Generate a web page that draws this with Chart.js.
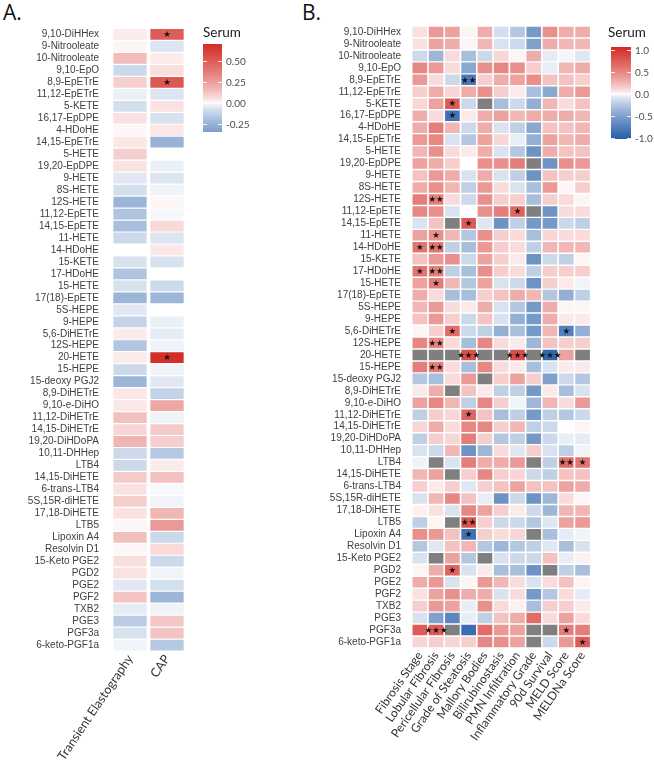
<!DOCTYPE html>
<html><head><meta charset="utf-8">
<script src="https://cdn.jsdelivr.net/npm/chart.js@4/dist/chart.umd.min.js"></script>
<style>
html,body{margin:0;padding:0;background:#fff;}
body{width:654px;height:760px;position:relative;overflow:hidden;}
#wa{position:absolute;left:0;top:0;width:300px;height:760px;}
#wb{position:absolute;left:300px;top:0;width:354px;height:760px;}
.panel{position:absolute;font-family:"Open Sans";font-size:21px;line-height:21px;color:#111;}
</style></head>
<body>
<div class="panel" style="left:3px;top:2px">A.</div>
<div class="panel" style="left:302px;top:2px">B.</div>
<div id="wa"><canvas id="ca"></canvas></div>
<div id="wb"><canvas id="cb"></canvas></div>
<script>
// ---------------- DATA ----------------
const metabolites = ["9,10-DiHHex","9-Nitrooleate","10-Nitrooleate","9,10-EpO","8,9-EpETrE","11,12-EpETrE","5-KETE","16,17-EpDPE","4-HDoHE","14,15-EpETrE","5-HETE","19,20-EpDPE","9-HETE","8S-HETE","12S-HETE","11,12-EpETE","14,15-EpETE","11-HETE","14-HDoHE","15-KETE","17-HDoHE","15-HETE","17(18)-EpETE","5S-HEPE","9-HEPE","5,6-DiHETrE","12S-HEPE","20-HETE","15-HEPE","15-deoxy PGJ2","8,9-DiHETrE","9,10-e-DiHO","11,12-DiHETrE","14,15-DiHETrE","19,20-DiHDoPA","10,11-DHHep","LTB4","14,15-DiHETE","6-trans-LTB4","5S,15R-diHETE","17,18-DiHETE","LTB5","Lipoxin A4","Resolvin D1","15-Keto PGE2","PGD2","PGE2","PGF2","TXB2","PGE3","PGF3a","6-keto-PGF1a"];

// Panel A
const colsA = ["Transient Elastography","CAP"];
const transientElastography = [0.03,0.01,0.15,-0.1,0.1,-0.03,-0.08,0.05,0.01,0.04,0.1,0.05,-0.05,-0.08,-0.24,-0.18,-0.2,-0.1,0.0,-0.07,-0.18,-0.07,-0.24,-0.05,-0.12,0.03,-0.17,0.03,-0.1,-0.24,0.04,0.04,0.14,0.08,0.18,-0.1,-0.1,0.11,0.05,0.1,0.05,0.01,0.14,0.01,0.06,0.05,-0.05,0.13,-0.04,-0.15,-0.07,-0.02];
const cap = [0.5,-0.06,0.03,0.06,0.52,-0.06,0.05,-0.07,0.04,-0.25,0.0,-0.03,-0.06,-0.02,0.01,-0.01,0.07,-0.06,0.04,-0.07,0.0,-0.1,-0.24,0.0,-0.03,-0.04,-0.02,0.7,-0.02,-0.05,-0.12,0.22,-0.02,0.11,0.1,-0.16,0.03,0.14,-0.01,-0.02,0.17,0.27,-0.1,0.07,-0.1,-0.02,-0.08,-0.24,-0.02,0.12,0.13,-0.16];
const starsA = [["9,10-DiHHex","CAP","*"],["8,9-EpETrE","CAP","*"],["20-HETE","CAP","*"]];
const legendTicksA = [0.5,0.25,0,-0.25];
const legendLabelsA = ["0.50","0.25","0.00","-0.25"];
const legendRangeA = [-0.35,0.71];

// Panel B
const colsB = ["Fibrosis Stage","Lobular Fibrosis","Pericellular Fibrosis","Grade of Steatosis","Mallory Bodies","Bilirubinostasis","PMN Infiltration","Inflammatory Grade","90d Survival","MELD Score","MELDNa Score"];
const fibrosisStage = [0.08,0.08,-0.15,0.5,0.4,0.15,0.12,0.3,0.3,0.4, 0.25,0.35,0.2,0.3,0.55,0.5,-0.1,0.35,0.6,0.2, 0.6,0.35,0.3,0.25,0.2,0.02,0.5,null,0.55,-0.25, 0.05,0.35,-0.2,0.12,-0.2,-0.1,-0.03,0.25,0.15,-0.1, 0.03,-0.2,0.45,-0.25,-0.1,0.02,0.3,0.08,0.15,-0.1, 0.75,0.12];
const lobularFibrosis = [0.4,0.35,-0.35,0.4,0.1,0.3,0.35,0.1,0.55,0.5, 0.45,0.3,0.4,0.45,0.55,0.45,0.2,0.45,0.6,0.4, 0.55,0.55,0.1,0.4,0.4,0.15,0.5,null,0.55,-0.3, 0.3,0.5,0.15,0.3,0.15,-0.15,null,0.35,0.05,0.25, 0.08,0.02,0.4,-0.08,null,0.3,0.4,0.35,0.4,-0.5, 0.75,0.15];
const pericellularFibrosis = [0.35,0.3,0.1,0.1,-0.15,0.12,0.75,-0.85,0.25,-0.1, 0.1,0.15,0.3,0.25,0.1,-0.1,null,0.25,-0.2,0.45, -0.2,0.25,-0.3,0.1,0.15,0.65,0.1,null,0.1,0.1, null,0.25,0.12,0.1,0.12,0.25,-0.1,null,0.15,0.5, -0.1,null,0.2,0.2,0.35,0.7,-0.1,0.45,0.35,-0.7, null,0.12];
const gradeOfSteatosis = [0.02,0.02,-0.3,-0.45,-0.8,0.3,-0.15,0.05,-0.15,-0.25, 0.05,0.0,-0.1,-0.2,-0.15,0.0,0.75,-0.25,-0.3,-0.15, -0.3,-0.25,-0.3,0.05,-0.15,-0.15,-0.3,0.85,-0.3,0.4, 0.2,-0.2,0.7,0.5,0.55,-0.6,0.55,0.15,-0.08,0.2, 0.5,0.8,-0.85,0.25,-0.25,-0.1,0.02,0.3,-0.05,-0.05, -0.9,0.15];
const malloryBodies = [0.3,0.25,-0.15,0.45,0.15,0.45,null,0.3,0.3,0.35, 0.3,0.45,0.3,0.4,0.45,0.45,-0.08,0.45,0.4,0.35, 0.45,0.35,0.15,0.3,0.2,-0.2,0.5,null,0.5,null, 0.05,0.5,0.2,0.5,0.15,-0.35,0.3,0.5,0.15,-0.05, 0.35,0.15,0.15,-0.25,null,0.05,0.4,0.3,0.45,-0.2, 0.65,0.5];
const bilirubinostasis = [-0.12,-0.1,0.12,0.5,0.3,0.15,-0.3,0.35,-0.1,0.12, -0.1,0.45,-0.1,0.1,0.15,0.55,-0.6,0.15,0.15,0.15, 0.15,-0.1,0.2,-0.1,-0.1,-0.4,0.1,null,0.1,0.15, -0.2,0.15,-0.3,0.15,-0.25,0.1,0.3,0.15,0.2,-0.6, 0.15,-0.15,0.1,-0.35,-0.1,-0.3,0.25,-0.1,0.1,0.2, 0.4,0.45];
const pmnInfiltration = [-0.25,-0.15,0.02,0.45,0.35,0.05,-0.15,0.25,-0.2,-0.05, -0.25,0.55,-0.2,-0.1,0.15,0.7,-0.2,0.1,0.1,0.05, 0.1,-0.15,0.3,-0.25,-0.4,-0.3,0.05,0.85,0.05,0.35, -0.2,-0.03,-0.2,0.25,-0.2,-0.08,0.4,0.12,0.35,-0.15, 0.05,-0.15,0.12,-0.25,-0.15,-0.3,0.1,0.1,0.03,0.3, 0.35,0.35];
const inflammatoryGrade = [-0.55,-0.5,0.3,0.15,0.45,-0.3,-0.4,0.3,-0.45,-0.4, -0.6,null,-0.6,-0.3,-0.3,null,-0.55,-0.3,-0.2,-0.6, -0.2,-0.6,0.25,-0.55,-0.55,-0.55,-0.35,null,-0.3,0.15, -0.55,-0.35,-0.55,-0.2,-0.55,0.15,null,-0.15,0.2,-0.6, -0.15,-0.25,null,-0.2,-0.15,-0.6,-0.1,-0.55,-0.3,0.65, null,null];
const survival90d = [0.45,0.3,-0.06,-0.05,0.2,-0.45,0.25,0.3,0.2,0.35, 0.3,-0.6,0.2,0.4,0.15,-0.6,-0.55,0.12,0.25,-0.15, 0.15,0.15,-0.25,0.3,0.3,0.25,0.2,-0.95,-0.1,-0.5, 0.05,0.25,-0.2,-0.15,-0.15,-0.1,-0.2,-0.2,0.2,-0.35, -0.35,-0.08,-0.3,-0.08,0.2,null,0.1,-0.25,0.15,0.1, null,-0.15];
const meldScore = [0.3,0.25,-0.02,0.25,0.2,0.3,0.1,0.3,0.2,0.25, 0.2,0.45,0.15,0.02,0.1,0.1,-0.15,0.1,0.25,-0.2, 0.15,0.05,-0.4,0.02,0.05,-0.75,0.15,0.35,0.05,-0.15, -0.3,0.1,-0.25,0.0,-0.05,-0.2,0.65,0.2,0.35,0.1, 0.25,0.35,-0.06,-0.3,-0.05,-0.2,0.2,0.1,0.15,0.35, 0.55,0.4];
const meldNaScore = [0.3,0.25,-0.08,0.3,0.15,0.4,0.2,0.25,0.25,0.3, 0.2,0.4,0.15,0.15,0.02,0.1,-0.2,0.1,0.25,0.02, 0.15,-0.03,-0.2,0.02,0.05,-0.4,0.15,null,0.05,-0.25, -0.1,0.4,-0.15,0.02,-0.06,-0.03,0.6,0.2,0.3,0.02, 0.25,0.4,-0.03,-0.1,0.03,-0.3,0.02,-0.06,0.05,0.1, 0.55,0.75];
const starsB = [
  ["8,9-EpETrE","Grade of Steatosis","**"],["5-KETE","Pericellular Fibrosis","*"],["16,17-EpDPE","Pericellular Fibrosis","*"],
  ["12S-HETE","Lobular Fibrosis","**"],["11,12-EpETE","PMN Infiltration","*"],["14,15-EpETE","Grade of Steatosis","*"],
  ["11-HETE","Lobular Fibrosis","*"],["14-HDoHE","Fibrosis Stage","*"],["14-HDoHE","Lobular Fibrosis","**"],
  ["17-HDoHE","Fibrosis Stage","*"],["17-HDoHE","Lobular Fibrosis","**"],["15-HETE","Lobular Fibrosis","*"],
  ["5,6-DiHETrE","Pericellular Fibrosis","*"],["5,6-DiHETrE","MELD Score","*"],["12S-HEPE","Lobular Fibrosis","**"],
  ["20-HETE","Grade of Steatosis","***"],["20-HETE","PMN Infiltration","***"],["20-HETE","90d Survival","***"],
  ["15-HEPE","Lobular Fibrosis","**"],["11,12-DiHETrE","Grade of Steatosis","*"],["LTB4","MELD Score","**"],
  ["LTB4","MELDNa Score","*"],["LTB5","Grade of Steatosis","**"],["Lipoxin A4","Grade of Steatosis","*"],
  ["PGD2","Pericellular Fibrosis","*"],["PGF3a","Lobular Fibrosis","***"],["PGF3a","MELD Score","*"],
  ["6-keto-PGF1a","MELDNa Score","*"]
];
const legendTicksB = [1,0.5,0,-0.5,-1];
const legendLabelsB = ["1.0","0.5","0.0","-0.5","-1.0"];
const legendRangeB = [-1.02,1.07];

// ---------------- STYLE ----------------
const HIGH = [212,42,36], LOW = [30,88,165], NA_COLOR = '#7f7f7f';
function cellColor(v, limit) {
  if (v === null || v === undefined) return NA_COLOR;
  const t = Math.pow(Math.min(1, Math.abs(v) / limit), 0.75);
  const e = v >= 0 ? HIGH : LOW;
  const c = e.map(x => Math.round(255 + (x - 255) * t));
  return 'rgb(' + c.join(',') + ')';
}

function colorbarPlugin(o) {
  return {
    id: 'colorbar',
    afterDraw(chart) {
      const ctx = chart.ctx; ctx.save();
      const [vmin, vmax] = o.range;
      const h = o.bottom - o.top;
      for (let i = 0; i < h; i++) {
        const v = vmax - (i + 0.5) / h * (vmax - vmin);
        ctx.fillStyle = cellColor(v, o.limit);
        ctx.fillRect(o.x, o.top + i, o.w, 1);
      }
      ctx.strokeStyle = 'rgba(255,255,255,0.85)'; ctx.lineWidth = 1;
      ctx.font = '10px Lato'; ctx.fillStyle = '#4d4d4d';
      ctx.textAlign = 'left'; ctx.textBaseline = 'middle';
      o.ticks.forEach((t, k) => {
        const y = Math.round(o.top + (vmax - t) / (vmax - vmin) * h) + 0.5;
        ctx.beginPath();
        ctx.moveTo(o.x, y); ctx.lineTo(o.x + 4, y);
        ctx.moveTo(o.x + o.w - 4, y); ctx.lineTo(o.x + o.w, y);
        ctx.stroke();
        ctx.fillText(o.labels[k], o.x + o.w + 4, y);
      });
      ctx.font = '13.5px Lato'; ctx.fillStyle = '#1a1a1a';
      ctx.fillText(o.title, o.titleX, o.titleY);
      ctx.restore();
    }
  };
}

function starPlugin(rows, cols, stars) {
  return {
    id: 'stars',
    afterDatasetsDraw(chart) {
      const ctx = chart.ctx, xs = chart.scales.x, ys = chart.scales.y;
      ctx.save();
      ctx.font = '8.5px "DejaVu Sans"'; ctx.fillStyle = '#111';
      ctx.textAlign = 'center'; ctx.textBaseline = 'middle';
      stars.forEach(([r, c, s]) => {
        const ri = rows.indexOf(r), ci = cols.indexOf(c);
        ctx.fillText('\u2605'.repeat(s.length), xs.getPixelForValue(ci + 0.5), ys.getPixelForValue(ri) + 0.5);
      });
      ctx.restore();
    }
  };
}

function makeHeatmap(id, cfg) {
  const datasets = cfg.series.map((vals, c) => ({
    label: cfg.cols[c],
    data: vals.map(() => [c + cfg.gap, c + 1 - cfg.gap]),
    backgroundColor: vals.map(v => cellColor(v, cfg.limit)),
    borderWidth: 0,
    grouped: false,
    barPercentage: cfg.barPct,
    categoryPercentage: 1
  }));
  return new Chart(document.getElementById(id), {
    type: 'bar',
    data: { labels: cfg.rows, datasets },
    options: {
      indexAxis: 'y',
      responsive: true, maintainAspectRatio: false, animation: false, devicePixelRatio: 1,
      layout: { padding: { top: cfg.padTop, right: cfg.padRight, left: 0, bottom: 0 } },
      plugins: { legend: { display: false }, tooltip: { enabled: false } },
      scales: {
        y: {
          type: 'category', offset: true,
          grid: { display: false, drawTicks: false }, border: { display: false },
          ticks: { autoSkip: false, padding: cfg.yPad, color: '#404040',
                   font: { family: '"Liberation Sans", Arial', size: 10 } },
          afterFit: s => { s.width = cfg.yWidth; }
        },
        x: {
          type: 'linear', min: 0, max: cfg.cols.length,
          grid: { display: false, drawTicks: false }, border: { display: false },
          afterBuildTicks: s => { s.ticks = cfg.cols.map((_, i) => ({ value: i + 0.5 })); },
          ticks: { autoSkip: false, minRotation: cfg.rot, maxRotation: cfg.rot, padding: cfg.xPad,
                   color: '#333', font: { family: 'Lato', size: cfg.xFont },
                   callback: v => cfg.cols[Math.floor(v)] },
          afterFit: s => { s.height = cfg.xHeight; }
        }
      }
    },
    plugins: [starPlugin(cfg.rows, cfg.cols, cfg.stars), colorbarPlugin(cfg.legend)]
  });
}

makeHeatmap('ca', {
  rows: metabolites, cols: colsA, series: [transientElastography, cap], stars: starsA,
  limit: 0.72, gap: 0.05, barPct: 0.9, rot: 56, xFont: 12.5,
  yWidth: 111.5, yPad: 12.5, xHeight: 109, xPad: 1, padTop: 28.5, padRight: 114.5,
  legend: { x: 203, w: 19, top: 44, bottom: 132, range: legendRangeA, limit: 0.72,
            ticks: legendTicksA, labels: legendLabelsA, title: 'Serum', titleX: 203, titleY: 33 }
});

makeHeatmap('cb', {
  rows: metabolites, cols: colsB,
  series: [fibrosisStage, lobularFibrosis, pericellularFibrosis, gradeOfSteatosis, malloryBodies, bilirubinostasis, pmnInfiltration, inflammatoryGrade, survival90d, meldScore, meldNaScore],
  stars: starsB,
  limit: 1.07, gap: 0.05, barPct: 0.88, rot: 55, xFont: 12,
  yWidth: 111.7, yPad: 10.7, xHeight: 112, xPad: 1, padTop: 26, padRight: 63.3,
  legend: { x: 311, w: 20, top: 47, bottom: 139, range: legendRangeB, limit: 1.07,
            ticks: legendTicksB, labels: legendLabelsB, title: 'Serum', titleX: 308, titleY: 33 }
});
</script>
</body></html>
